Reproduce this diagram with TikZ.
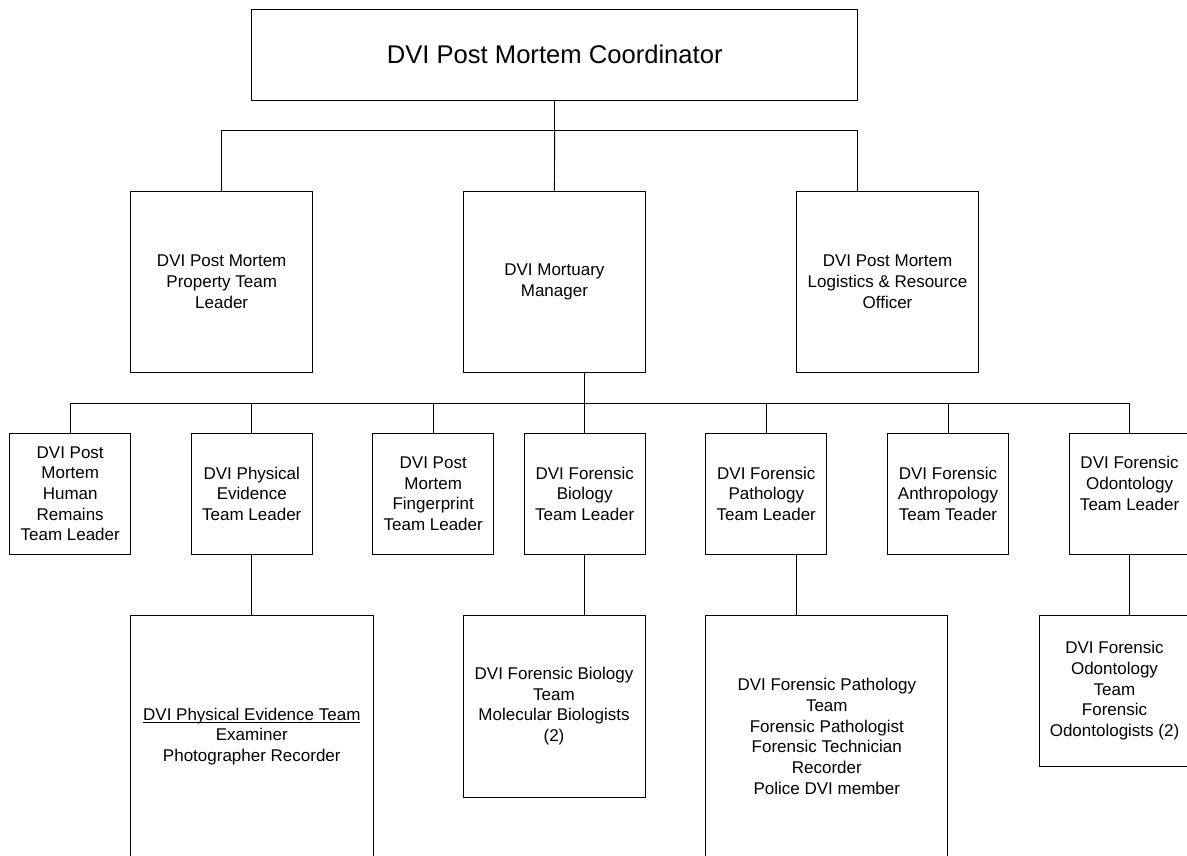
\documentclass[tikz,border=0pt]{standalone}
\usepackage{fontspec}
\setmainfont{Liberation Sans}
\usetikzlibrary{calc}
% underline drawn just below the baseline
\newcommand{\teamul}[1]{\setbox0=\hbox{#1}\rlap{\rule[-3pt]{\wd0}{0.9pt}}\box0}
\begin{document}
\begin{tikzpicture}[x=1pt,y=-1pt,
  box/.style={draw, line width=0.9pt, rectangle, inner sep=0pt, align=center,
              font=\fontsize{17}{20.7}\selectfont},
  chief/.style={box, minimum width=606pt, minimum height=90.7pt,
                font=\fontsize{25.6}{30}\selectfont},
  lvlone/.style={box, minimum width=182pt, minimum height=181.7pt},
  lvltwo/.style={box, minimum width=121pt, minimum height=121pt},
  wire/.style={line width=0.9pt}]
\useasboundingbox (0,0) rectangle (1187,855);
\clip (0,0) rectangle (1187,855);

% coordinator
\node[chief] (top) at (554.7,54.7) {DVI Post Mortem Coordinator};

% first tier
\node[lvlone] (prop) at (221.7,281.8) {DVI Post Mortem\\Property Team\\Leader};
\node[lvlone] (mgr)  at (554.4,281.8) {DVI Mortuary\\Manager};
\node[lvlone] (log)  at (887.5,281.8) {DVI Post Mortem\\Logistics \& Resource\\Officer};

% team leaders
\node[lvltwo] (hr)  at (70.2,493.8)   {DVI Post\\Mortem\\Human\\Remains\\Team Leader};
\node[lvltwo] (pe)  at (251.8,493.8)  {DVI Physical\\Evidence\\Team Leader};
\node[lvltwo] (fp)  at (433.2,493.8)  {DVI Post\\Mortem\\Fingerprint\\Team Leader};
\node[lvltwo] (bio) at (584.75,493.8) {DVI Forensic\\Biology\\Team Leader};
\node[lvltwo] (pat) at (766.3,493.8)  {DVI Forensic\\Pathology\\Team Leader};
\node[lvltwo] (ant) at (948,493.8)    {DVI Forensic\\Anthropology\\Team Teader};
\node[lvltwo] (od)  at (1129.6,493.8) {DVI Forensic\\Odontology\\Team Leader\\\mbox{}};

% teams
\node[box, minimum width=242.3pt, minimum height=243pt] (peteam) at (251.8,736.5)
  {\teamul{DVI Physical Evidence Team}\\Examiner\\Photographer Recorder};
\node[box, minimum width=182pt, minimum height=182pt] (bioteam) at (554,706)
  {DVI Forensic Biology\\Team\\Molecular Biologists\\(2)};
\node[box, minimum width=242pt, minimum height=243pt] (patteam) at (826.8,736.5)
  {DVI Forensic Pathology\\Team\\Forensic Pathologist\\Forensic Technician\\Recorder\\Police DVI member};
\node[box, minimum width=151pt, minimum height=151.7pt] (odteam) at (1114.5,690.8)
  {DVI Forensic\\Odontology\\Team\\Forensic\\Odontologists (2)};

% coordinator to first tier
\coordinate (login) at ($(log.north)+(-30.5,0)$);
\draw[wire] (top.south) -- ++(0,29.7) coordinate (j1);
\draw[wire] (j1) -- (mgr.north);
\draw[wire] (prop.north) -- (prop.north |- j1) -- (login |- j1) -- (login);

% manager to team leaders
\coordinate (mgrout) at ($(mgr.south)+(30.5,0)$);
\draw[wire] (mgrout) -- ++(0,30) coordinate (j2);
\draw[wire] (hr.north) -- (hr.north |- j2) -- (od.north |- j2) -- (od.north);
\foreach \n in {pe,fp,bio,pat,ant}
  \draw[wire] (\n.north |- j2) -- (\n.north);

% team leaders to teams
\coordinate (patout) at ($(pat.south)+(30.5,0)$);
\draw[wire] (pe.south) -- (peteam.north);
\draw[wire] (bio.south) -- (bio.south |- bioteam.north);
\draw[wire] (patout) -- (patout |- patteam.north);
\draw[wire] (od.south) -- (od.south |- odteam.north);
\end{tikzpicture}
\end{document}
